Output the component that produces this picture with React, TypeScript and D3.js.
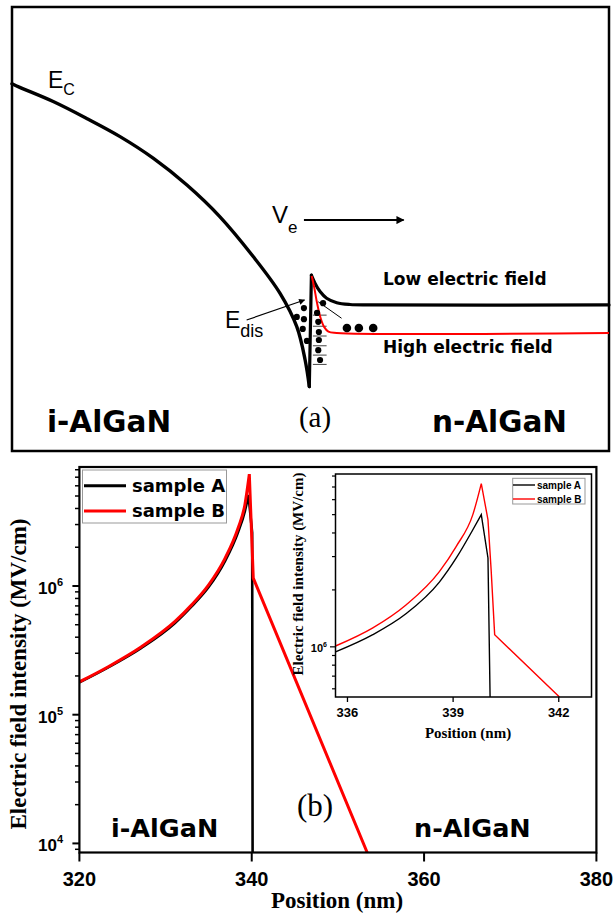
import React from "react";
import * as d3 from "d3";

// ---------- (a) band diagram, schematic units: position 0-100, energy 0-100
const ecCurve: [number, number][] = [
  [0, 82.7], [1.3, 81.9], [6.9, 78.7], [12.5, 74.9], [18.1, 70.8], [23.7, 65.9],
  [29.3, 59.9], [34.8, 52.8], [40.4, 43.8], [44.9, 35.5], [47.7, 28.0], [49.1, 20.5], [49.8, 14.5],
];
const spikeEdge: [number, number][] = [[49.8, 14.5], [50.15, 39.6]];
const lowFieldBand: [number, number][] = [
  [50.15, 39.6], [50.75, 37.8], [51.6, 35.9], [52.7, 34.4], [54.4, 33.4], [56.6, 33.0], [60.0, 32.9], [100, 32.9],
];
const highFieldBand: [number, number][] = [
  [50.2, 39.4], [50.6, 37.0], [51.1, 33.3], [51.7, 29.9], [52.3, 27.9], [53.0, 26.9], [54.4, 26.6], [100, 26.6],
];
const wellDots: [number, number][] = [
  [48.9, 32.2], [47.7, 30.2], [48.9, 29.7], [48.7, 27.5], [49.4, 24.8],
  [51.1, 31.1], [51.3, 29.1], [51.4, 26.8], [51.4, 25.0], [51.3, 22.7], [51.6, 20.5], [52.1, 33.3],
];
const freeDots: [number, number][] = [[56.1, 27.7], [58.1, 27.7], [60.5, 27.7]];
const subbandLevels = [30.6, 28.1, 25.9, 23.7, 21.6, 19.5];
const levelSpan: [number, number] = [50.4, 52.7];
const edisArrow: [number, number][] = [[39.3, 29.5], [49.0, 34.0]];
const veArrow: [number, number][] = [[48.9, 52.0], [65.6, 52.0]];
const pointerLine: [number, number][] = [[51.3, 33.6], [55.2, 29.9]];

// ---------- (b) electric field vs position
const mainXTicks = [320, 340, 360, 380];
const sampleB: [number, number][] = [
  [320, 1.8e5], [323.35, 2.36e5], [327.2, 3.37e5], [331.1, 5.3e5], [333.0, 7.1e5], [335.0, 1.02e6],
  [336.9, 1.64e6], [338.4, 2.8e6], [339.2, 4.26e6], [339.72, 7.4e6], [340.18, 1.15e6], [353.4, 8.5e3],
];
const sampleA: [number, number][] = [
  [320, 1.78e5], [323.35, 2.33e5], [327.2, 3.3e5], [331.1, 5.15e5], [333.0, 6.9e5], [335.0, 9.8e5],
  [336.9, 1.56e6], [338.4, 2.6e6], [339.2, 3.8e6], [339.62, 5.1e6], [340.05, 2.6e6], [340.1, 8.5e3],
];

// inset
const insetXTicks = [336, 339, 342];
const insetB: [number, number][] = [
  [335.66, 1.01e6], [336.72, 1.26e6], [337.67, 1.67e6], [338.61, 2.5e6], [339.09, 3.4e6], [339.56, 5.0e6],
  [339.8, 7.3e6], [339.99, 4.7e6], [340.08, 2.55e6], [340.18, 1.16e6], [342.02, 5.43e5],
];
const insetA: [number, number][] = [
  [335.66, 9.4e5], [336.72, 1.16e6], [337.67, 1.5e6], [338.61, 2.2e6], [339.09, 2.95e6], [339.56, 4.16e6],
  [339.8, 5.0e6], [339.99, 2.95e6], [340.05, 5.43e5],
];

const RED = "#ff0000";
const SANS = "'Liberation Sans', Arial, sans-serif";
const WIDE = "'DejaVu Sans', sans-serif";
const SERIF = "'Liberation Serif', 'Times New Roman', serif";

const ax = d3.scaleLinear().domain([0, 100]).range([12, 609]);
const ay = d3.scaleLinear().domain([0, 100]).range([451, 7]);

const bx = d3.scaleLinear().domain([320, 380]).range([79.4, 596.4]);
const by = d3.scaleLog().domain([8.5e3, 8.4e6]).range([852.5, 467]);

const ix = d3.scaleLinear().domain([335.66, 342.93]).range([335.5, 591.5]);
const iy = d3.scaleLog().domain([5.43e5, 8.2e6]).range([697, 474]);

function seriesPath(data: [number, number][], sx: any, sy: any) {
  // smooth rise up to the peak, straight segments after it
  const peak = d3.maxIndex(data, (d) => d[1]);
  const smooth = d3.line<[number, number]>().x((d) => sx(d[0])).y((d) => sy(d[1])).curve(d3.curveMonotoneX);
  const straight = d3.line<[number, number]>().x((d) => sx(d[0])).y((d) => sy(d[1]));
  return (smooth(data.slice(0, peak + 1)) || "") + (straight(data.slice(peak)) || "").replace(/^M/, "L");
}

function isDecade(v: number) {
  return Math.abs(Math.log10(v) - Math.round(Math.log10(v))) < 1e-6;
}

export default function App() {
  const aLine = d3.line<[number, number]>().x((d) => ax(d[0])).y((d) => ay(d[1]));
  const aSmooth = aLine.curve(d3.curveCatmullRom.alpha(0.5));
  const straightA = d3.line<[number, number]>().x((d) => ax(d[0])).y((d) => ay(d[1]));

  const mainYTicks = by.ticks().filter((v) => v >= 8.5e3 && v <= 8.4e6);
  const insetYTicks = iy.ticks().filter((v) => v >= 5.43e5 && v <= 8.2e6);

  return (
    <div style={{ position: "absolute", left: 0, top: 0, background: "#fff" }}>
      <svg width={613} height={914} style={{ display: "block" }}>
        <defs>
          <marker id="arrowBig" viewBox="0 0 10 10" refX="9" refY="5" markerWidth="11" markerHeight="8"
            markerUnits="userSpaceOnUse" orient="auto">
            <path d="M0,0 L10,5 L0,10 Z" fill="#000" />
          </marker>
          <marker id="arrowSmall" viewBox="0 0 10 10" refX="9" refY="5" markerWidth="9" markerHeight="6"
            markerUnits="userSpaceOnUse" orient="auto">
            <path d="M0,0 L10,5 L0,10 Z" fill="#000" />
          </marker>
          <clipPath id="mainClip">
            <rect x={bx.range()[0]} y={by.range()[1]} width={bx.range()[1] - bx.range()[0]}
              height={by.range()[0] - by.range()[1]} />
          </clipPath>
          <clipPath id="insetClip">
            <rect x={ix.range()[0]} y={iy.range()[1]} width={ix.range()[1] - ix.range()[0]}
              height={iy.range()[0] - iy.range()[1]} />
          </clipPath>
        </defs>

        {/* ---------------- panel (a) ---------------- */}
        <rect x={12} y={7} width={597} height={444} fill="none" stroke="#000" strokeWidth={2.5} />
        <path d={aSmooth(ecCurve) || ""} fill="none" stroke="#000" strokeWidth={3.4} strokeLinecap="round" />
        <path d={straightA(spikeEdge) || ""} fill="none" stroke="#000" strokeWidth={3.2} strokeLinecap="round" />
        <path d={aSmooth(lowFieldBand) || ""} fill="none" stroke="#000" strokeWidth={3.2} strokeLinecap="round" />
        {subbandLevels.map((e, i) => (
          <line key={i} x1={ax(levelSpan[0])} x2={ax(levelSpan[1])} y1={ay(e)} y2={ay(e)} stroke="#444" strokeWidth={1} />
        ))}
        <path d={aSmooth(highFieldBand) || ""} fill="none" stroke={RED} strokeWidth={2} />
        {wellDots.map((d, i) => (
          <circle key={i} cx={ax(d[0])} cy={ay(d[1])} r={3.1} fill="#000" />
        ))}
        {freeDots.map((d, i) => (
          <circle key={i} cx={ax(d[0])} cy={ay(d[1])} r={4.3} fill="#000" />
        ))}
        <path d={straightA(pointerLine) || ""} stroke="#000" strokeWidth={1} />
        <path d={straightA(edisArrow) || ""} stroke="#000" strokeWidth={1.2} markerEnd="url(#arrowSmall)" />
        <path d={straightA(veArrow) || ""} stroke="#000" strokeWidth={2} markerEnd="url(#arrowBig)" />

        <text x={48} y={88} fontFamily={SANS} fontSize={23}>
          E<tspan fontSize={16} dy={7}>C</tspan>
        </text>
        <text x={272} y={222.5} fontFamily={SANS} fontSize={24}>
          V<tspan fontSize={17} dy={10}>e</tspan>
        </text>
        <text x={225} y={328} fontFamily={SANS} fontSize={23}>
          E<tspan fontSize={18} dy={9}>dis</tspan>
        </text>
        <text x={383} y={285} fontFamily={WIDE} fontWeight="bold" fontSize={17}>Low electric field</text>
        <text x={383} y={353} fontFamily={WIDE} fontWeight="bold" fontSize={17}>High electric field</text>
        <text x={47} y={432} fontFamily={WIDE} fontWeight="bold" fontSize={29.5}>i-AlGaN</text>
        <text x={432} y={432} fontFamily={WIDE} fontWeight="bold" fontSize={29.5}>n-AlGaN</text>
        <text x={315} y={427} fontFamily={SERIF} fontSize={29} textAnchor="middle">(a)</text>

        {/* ---------------- panel (b) ---------------- */}
        <g clipPath="url(#mainClip)">
          <path d={seriesPath(sampleA, bx, by)} fill="none" stroke="#000" strokeWidth={2.6} />
          <path d={seriesPath(sampleB, bx, by)} fill="none" stroke={RED} strokeWidth={3} />
        </g>
        <rect x={79.4} y={467} width={517} height={385.5} fill="none" stroke="#000" strokeWidth={2.2} />

        {mainXTicks.map((t) => (
          <g key={t}>
            <line x1={bx(t)} x2={bx(t)} y1={852.5} y2={861.5} stroke="#000" strokeWidth={2} />
            <text x={bx(t)} y={886} textAnchor="middle" fontFamily={SANS} fontWeight="bold" fontSize={20}>{t}</text>
          </g>
        ))}
        {mainYTicks.map((t, i) => {
          const major = isDecade(t);
          return (
            <g key={i}>
              <line x1={major ? 72.4 : 75} x2={79.4} y1={by(t)} y2={by(t)} stroke="#000" strokeWidth={major ? 2 : 1.5} />
              {major && (
                <text x={63} y={by(t) + 8} textAnchor="end" fontFamily={SANS} fontWeight="bold" fontSize={17}>
                  10<tspan fontSize={11} dy={-8}>{Math.round(Math.log10(t))}</tspan>
                </text>
              )}
            </g>
          );
        })}
        <text x={337} y={908} textAnchor="middle" fontFamily={SERIF} fontWeight="bold" fontSize={23}>Position (nm)</text>
        <text transform="translate(26,674) rotate(-90)" textAnchor="middle" fontFamily={SERIF} fontWeight="bold"
          fontSize={23}>Electric field intensity (MV/cm)</text>

        {/* legend */}
        <rect x={82.5} y={470} width={144} height={53} fill="#fff" stroke="#999" strokeWidth={1} />
        <line x1={84} x2={126} y1={485.7} y2={485.7} stroke="#000" strokeWidth={3} />
        <line x1={84} x2={126} y1={511} y2={511} stroke={RED} strokeWidth={3} />
        <text x={132} y={491.5} fontFamily={WIDE} fontWeight="bold" fontSize={18}>sample A</text>
        <text x={132} y={517} fontFamily={WIDE} fontWeight="bold" fontSize={18}>sample B</text>

        <text x={111} y={837} fontFamily={WIDE} fontWeight="bold" fontSize={25.5}>i-AlGaN</text>
        <text x={414} y={837} fontFamily={WIDE} fontWeight="bold" fontSize={25.5}>n-AlGaN</text>
        <text x={315} y={816} fontFamily={SERIF} fontSize={31} textAnchor="middle">(b)</text>

        {/* ---------------- inset ---------------- */}
        <rect x={335.5} y={474} width={256} height={223} fill="#fff" />
        <g clipPath="url(#insetClip)">
          <path d={seriesPath(insetA, ix, iy)} fill="none" stroke="#000" strokeWidth={1.4} />
          <path d={seriesPath(insetB, ix, iy)} fill="none" stroke={RED} strokeWidth={1.4} />
        </g>
        <rect x={335.5} y={474} width={256} height={223} fill="none" stroke="#000" strokeWidth={1.5} />
        {insetXTicks.map((t) => (
          <g key={t}>
            <line x1={ix(t)} x2={ix(t)} y1={697} y2={702} stroke="#000" strokeWidth={1.3} />
            <text x={ix(t)} y={716.5} textAnchor="middle" fontFamily={SANS} fontWeight="bold" fontSize={13}>{t}</text>
          </g>
        ))}
        {insetYTicks.map((t, i) => {
          const major = isDecade(t);
          return (
            <g key={i}>
              <line x1={major ? 330 : 332} x2={335.5} y1={iy(t)} y2={iy(t)} stroke="#000" strokeWidth={1.2} />
              {major && (
                <text x={327} y={iy(t) + 5} textAnchor="end" fontFamily={SANS} fontWeight="bold" fontSize={11}>
                  10<tspan fontSize={7} dy={-5}>{Math.round(Math.log10(t))}</tspan>
                </text>
              )}
            </g>
          );
        })}
        <text x={468} y={738} textAnchor="middle" fontFamily={SERIF} fontWeight="bold" fontSize={15}>Position (nm)</text>
        <text transform="translate(303,574) rotate(-90)" textAnchor="middle" fontFamily={SERIF} fontWeight="bold"
          fontSize={15}>Electric field intensity (MV/cm)</text>
        <rect x={512.7} y={478.3} width={72.3} height={25.7} fill="#fff" stroke="#999" strokeWidth={1} />
        <line x1={513} x2={535} y1={485} y2={485} stroke="#000" strokeWidth={1.4} />
        <line x1={513} x2={535} y1={499} y2={499} stroke={RED} strokeWidth={1.4} />
        <text x={537} y={489} fontFamily={SANS} fontWeight="bold" fontSize={10}>sample A</text>
        <text x={537} y={503} fontFamily={SANS} fontWeight="bold" fontSize={10}>sample B</text>
      </svg>
    </div>
  );
}
